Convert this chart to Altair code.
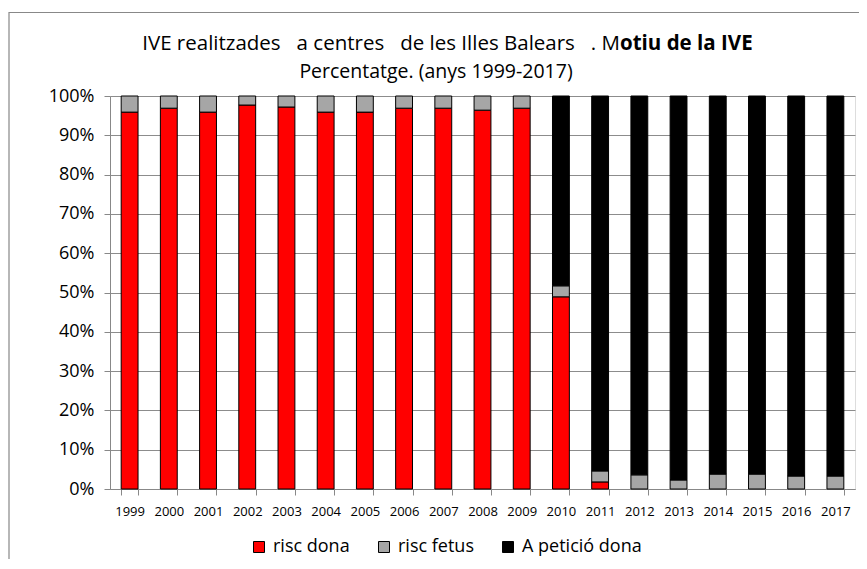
import altair as alt
import pandas as pd

years = [str(y) for y in range(1999, 2018)]
series = ["risc dona", "risc fetus", "A petició dona"]
risc_dona = [95.9, 96.9, 95.9, 97.7, 97.2, 95.9, 95.9, 96.9, 96.9, 96.4, 96.9,
             48.9, 1.8, 0, 0, 0, 0, 0, 0]
risc_fetus = [4.1, 3.1, 4.1, 2.3, 2.8, 4.1, 4.1, 3.1, 3.1, 3.6, 3.1,
              2.8, 2.8, 3.6, 2.3, 3.8, 3.8, 3.3, 3.3]
a_peticio = [0, 0, 0, 0, 0, 0, 0, 0, 0, 0, 0,
             48.3, 95.4, 96.4, 97.7, 96.2, 96.2, 96.7, 96.7]
colors = ["#ff0000", "#a6a6a6", "#000000"]
y_ticks = [0, 10, 20, 30, 40, 50, 60, 70, 80, 90, 100]

S = "\u00a0"
title1_normal = "IVE realitzades" + S * 3 + "a centres" + S * 3 + "de les Illes Balears" + S * 3 + ". M"
title1_bold = "otiu de la IVE"
title2 = "Percentatge. (anys 1999-2017)"

rows = []
for i, y in enumerate(years):
    for k, (name, vals) in enumerate(zip(series, [risc_dona, risc_fetus, a_peticio])):
        rows.append({"year": y, "serie": name, "value": vals[i], "ord": k})
df = pd.DataFrame(rows)

FONT = "Open Sans"
W, H = 745, 393

bars = alt.Chart(df).transform_filter("datum.value > 0").mark_bar(
    stroke="black", strokeWidth=1
).encode(
    x=alt.X("year:N", sort=years, title=None,
            scale=alt.Scale(paddingInner=0.57, paddingOuter=0.285),
            axis=alt.Axis(labelAngle=0, labelFontSize=13, labelFont=FONT, labelColor="black",
                          tickBand="extent", tickSize=6, tickColor="#888888",
                          domainColor="#888888", labelPadding=10, grid=False)),
    y=alt.Y("value:Q", stack="zero", title=None,
            scale=alt.Scale(domain=[0, 100], nice=False),
            axis=alt.Axis(values=y_ticks, labelExpr="datum.value + '%'", labelFontSize=18,
                          labelFont=FONT, labelColor="black", tickSize=6, tickColor="#888888",
                          domainColor="#888888", gridColor="#8c8c8c", grid=True,
                          labelPadding=10)),
    color=alt.Color("serie:N", sort=series,
                    scale=alt.Scale(domain=series, range=colors),
                    legend=alt.Legend(title=None, orient="none", direction="horizontal",
                                      legendX=140, legendY=442, symbolType="square",
                                      symbolSize=121, symbolStrokeColor="black",
                                      symbolStrokeWidth=1, symbolOpacity=1,
                                      labelFont=FONT, labelFontSize=18, labelColor="black",
                                      columnPadding=25, labelOffset=5)),
    order=alt.Order("ord:Q"),
)

t1a = alt.Chart(pd.DataFrame({"t": [title1_normal]})).mark_text(
    font=FONT, fontSize=20.5, align="right", baseline="middle", color="black"
).encode(text="t:N", x=alt.value(510), y=alt.value(-52))
t1b = alt.Chart(pd.DataFrame({"t": [title1_bold]})).mark_text(
    font=FONT, fontSize=20.5, fontWeight="bold", align="left", baseline="middle", color="black"
).encode(text="t:N", x=alt.value(510), y=alt.value(-52))
t2 = alt.Chart(pd.DataFrame({"t": [title2]})).mark_text(
    font=FONT, fontSize=19.5, align="center", baseline="middle", color="black"
).encode(text="t:N", x=alt.value(326), y=alt.value(-24))
border = alt.Chart(pd.DataFrame({"a": [0]})).mark_rect(
    fill=None, stroke="#888888", strokeWidth=1.2
).encode(x=alt.value(-101), x2=alt.value(800), y=alt.value(-83.5), y2=alt.value(520))

chart = alt.layer(border, bars, t1a, t1b, t2).properties(
    width=W, height=H,
    autosize=alt.AutoSizeParams(type="none"),
    padding={"left": 102, "top": 88, "right": 4, "bottom": 70},
).configure_view(stroke=None).configure(background="white")

chart.save("out.html", embed_options={"renderer": "svg", "actions": False})
